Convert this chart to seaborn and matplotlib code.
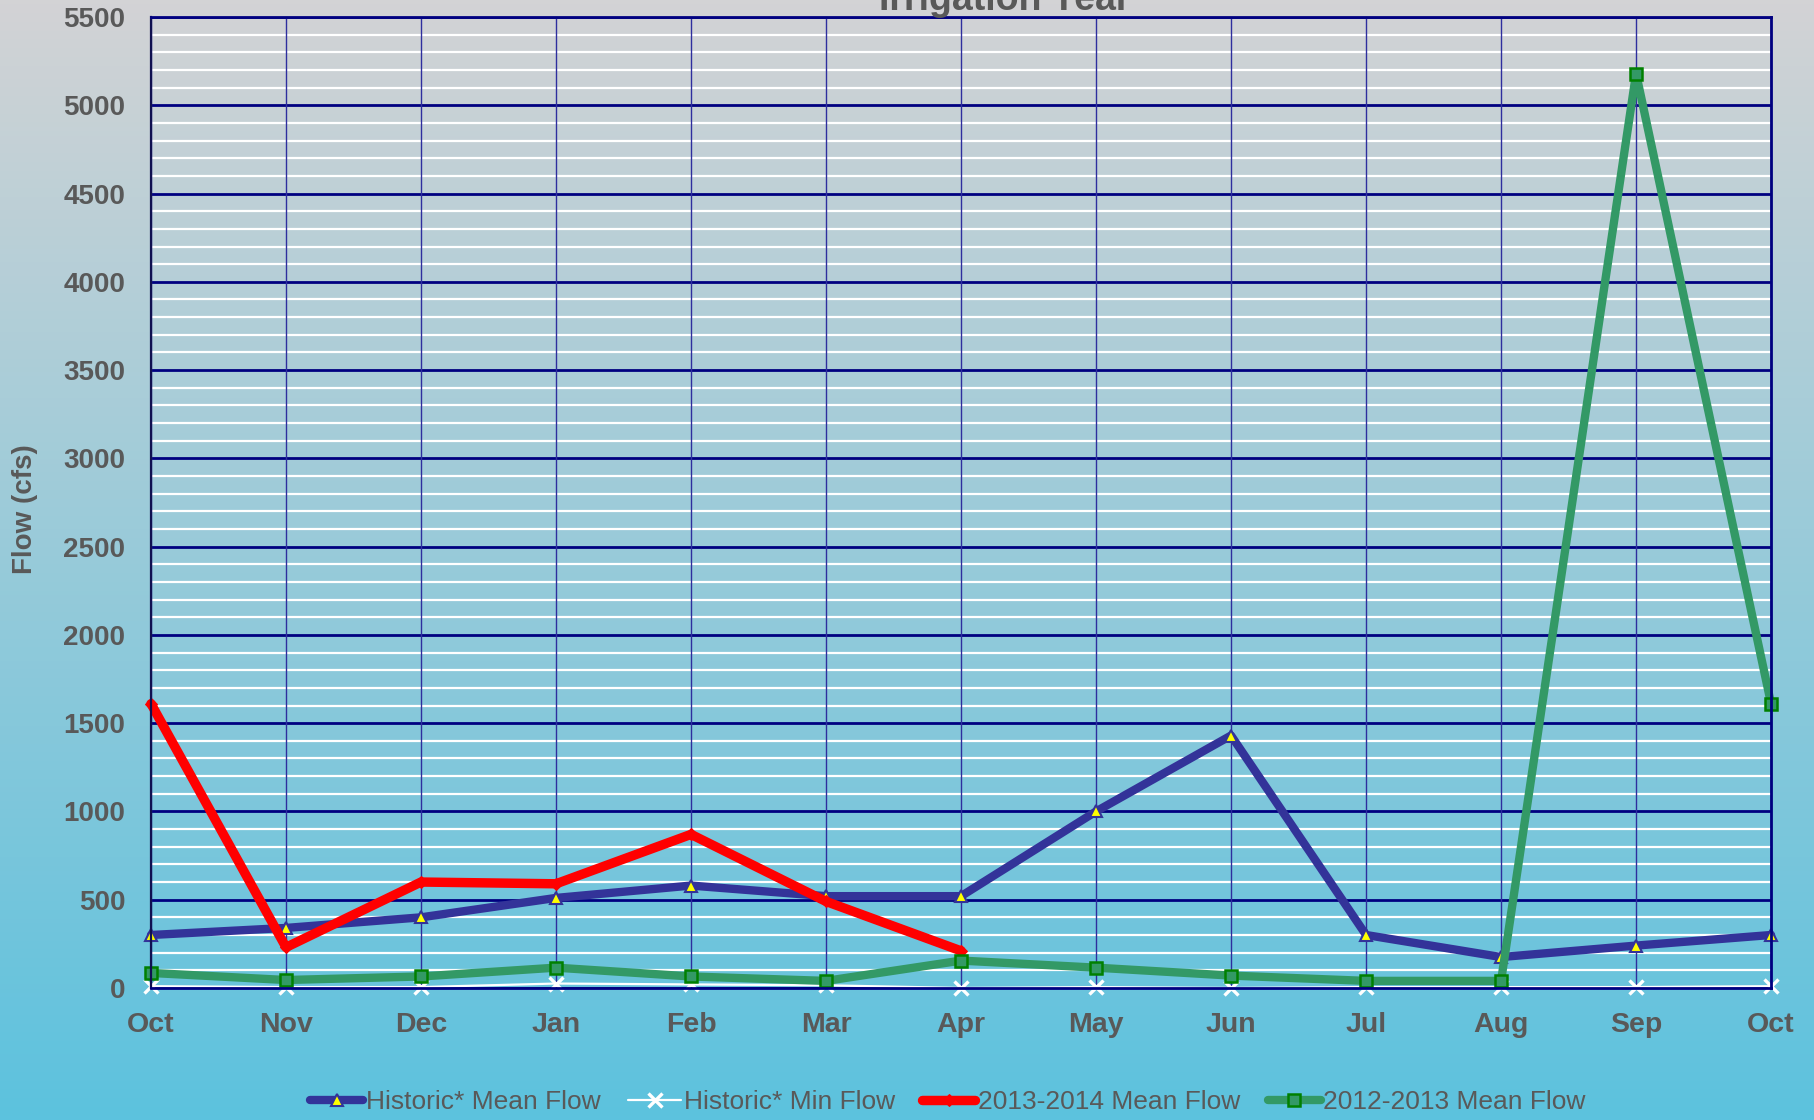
import numpy as np
import pandas as pd
import seaborn as sns
import matplotlib
matplotlib.use("Agg")
import matplotlib.pyplot as plt
from matplotlib.ticker import MultipleLocator

# values (cfs)
months = ['Oct', 'Nov', 'Dec', 'Jan', 'Feb', 'Mar', 'Apr', 'May', 'Jun', 'Jul', 'Aug', 'Sep', 'Oct']
historic_mean = [300, 340, 400, 510, 580, 520, 520, 1000, 1430, 300, 175, 240, 300]
historic_min = [10, 5, 5, 25, 20, 15, 0, 5, 0, 5, 5, 5, 10]
mean_2013_2014 = [1610, 230, 600, 590, 870, 490, 210]
mean_2012_2013 = [85, 45, 65, 115, 65, 40, 155, 115, 70, 40, 40, 5180, 1610]

sns.set_style("white")
plt.rcParams['font.family'] = ['Liberation Sans', 'DejaVu Sans']

txt = '#595959'
fig = plt.figure(figsize=(18.15, 11.2), dpi=100)

# gradient background, grey at the top to cyan at the bottom
bg = fig.add_axes([0, 0, 1, 1], zorder=-10)
top = np.array([211, 211, 213]) / 255
bot = np.array([92, 194, 222]) / 255
t = np.linspace(0, 1, 256)[:, None]
grad = (top[None, :] * (1 - t) + bot[None, :] * t)[:, None, :]
bg.imshow(grad, aspect='auto', extent=[0, 1, 0, 1])
bg.axis('off')

ax = fig.add_axes([0.0832, 0.1179, 0.8926, 0.8669])
ax.set_facecolor('none')

pos = list(range(len(months)))
df = pd.DataFrame({'pos': pos, 'hmean': historic_mean, 'hmin': historic_min,
                   'y1213': mean_2012_2013})
df14 = pd.DataFrame({'pos': pos[:len(mean_2013_2014)], 'y1314': mean_2013_2014})

common = dict(ax=ax, clip_on=False, solid_joinstyle='round', solid_capstyle='round')
sns.lineplot(data=df, x='pos', y='hmean', color='#333399', lw=6, marker='^',
             markersize=8, markerfacecolor='yellow', markeredgecolor='#333399',
             markeredgewidth=1.5, label='Historic* Mean Flow', **common)
sns.lineplot(data=df, x='pos', y='hmin', color='white', lw=1.6, marker='x',
             markersize=10, markeredgecolor='white', markeredgewidth=2.4,
             label='Historic* Min Flow', **common)
sns.lineplot(data=df14, x='pos', y='y1314', color='#FF0000', lw=6.8, marker='D',
             markersize=6, markerfacecolor='#FF0000', markeredgecolor='#FF0000',
             label='2013-2014 Mean Flow', **common)
sns.lineplot(data=df, x='pos', y='y1213', color='#339966', lw=6, marker='s',
             markersize=8.5, markerfacecolor='#339966', markeredgecolor='#008000',
             markeredgewidth=1.8, label='2012-2013 Mean Flow', **common)

ax.set_xlim(0, 12)
ax.set_ylim(0, 5500)
ax.set_xticks(pos)
ax.set_xticklabels(months)
ax.set_yticks(range(0, 5501, 500))
ax.yaxis.set_minor_locator(MultipleLocator(100))
ax.set_axisbelow(True)
# vertical grid above the white minor lines, as in the reference
ax.yaxis.set_zorder(0.4)
ax.xaxis.set_zorder(0.6)
ax.grid(which='minor', axis='y', color='white', lw=1.6)
ax.grid(which='major', axis='y', color='#000080', lw=2.0)
ax.grid(which='major', axis='x', color='#2e2e9e', lw=1.0)
ax.set_xlabel('')
ax.set_ylabel('')

ax.tick_params(axis='y', which='major', direction='out', length=6.5, width=1.2,
               color='#333333', pad=12, labelsize=20, labelcolor=txt)
ax.tick_params(axis='y', which='minor', length=0)
ax.tick_params(axis='x', direction='inout', length=9, width=1.8, color='#000080',
               pad=13, labelsize=20.5, labelcolor=txt)
for lab in ax.get_xticklabels() + ax.get_yticklabels():
    lab.set_fontweight('bold')

for side in ['top', 'bottom', 'right']:
    ax.spines[side].set_color('#000080')
    ax.spines[side].set_linewidth(2.0)
ax.spines['left'].set_color('#101050')
ax.spines['left'].set_linewidth(1.6)

fig.text(25 / 1815, 1 - 509 / 1120, 'Flow (cfs)', rotation=90, ha='center', va='center',
         fontsize=20, fontweight='bold', color=txt)
fig.text(1005 / 1815, 1 - 10 / 1120, 'Irrigation Year', ha='center', va='baseline',
         fontsize=27, fontweight='bold', color=txt)

handles, labels = ax.get_legend_handles_labels()
ax.get_legend().remove()
fig.legend(handles, labels, loc='center', bbox_to_anchor=(948 / 1815, 1 - 1102 / 1120),
           ncol=4, frameon=False, fontsize=19, labelcolor=txt, handlelength=2.0,
           handletextpad=0.1, columnspacing=1.05, borderaxespad=0)

fig.savefig('out.png', dpi=100)
